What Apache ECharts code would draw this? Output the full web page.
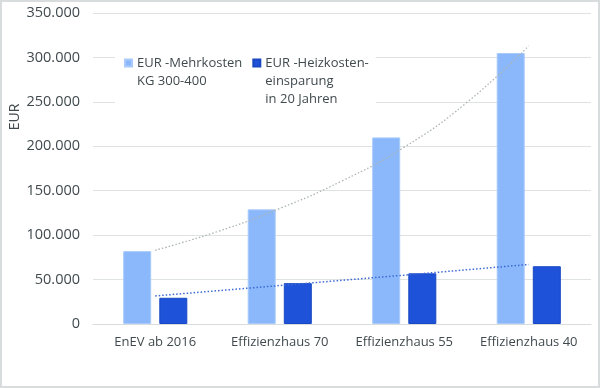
<!DOCTYPE html>
<html>
<head>
<meta charset="utf-8">
<script src="https://cdn.jsdelivr.net/npm/echarts@6/dist/echarts.min.js"></script>
<style>
html,body{margin:0;padding:0;background:#fff;}
#chart{width:600px;height:388px;}
</style>
</head>
<body>
<div id="chart"></div>
<script>
// ---- data ----
const categories = ['EnEV ab 2016', 'Effizienzhaus 70', 'Effizienzhaus 55', 'Effizienzhaus 40'];
const seriesNames = ['EUR -Mehrkosten\nKG 300-400', 'EUR -Heizkosten-\neinsparung\nin 20 Jahren'];
const mehrkosten = [82000, 129000, 210000, 305000];
const heizkosten = [29500, 46000, 57000, 65000];
// trendlines: [category position (1 = first), value]
const trendMehrkosten = [[1, 83000], [1.5, 104000], [2, 130000], [2.5, 161000], [3, 199000], [3.5, 249000], [4, 313000]];
const trendHeizkosten = [[1, 31600], [2, 43300], [3, 55000], [4, 67000]];
const yTicks = [0, 50000, 100000, 150000, 200000, 250000, 300000, 350000];
const yAxisName = 'EUR';

const txt = '#404a4e';
const font = 'Open Sans';
const fmt = v => String(v).replace(/\B(?=(\d{3})+(?!\d))/g, '.');

// legend text: pad lines so the icon sits next to the first line of each entry
const legendFormatter = name => {
  const lines = name.split('\n');
  while (lines.length < 3) lines.push('');
  return '\n\n' + lines.join('\n');
};

const chart = echarts.init(document.getElementById('chart'), null, {renderer: 'canvas'});
chart.setOption({
  animation: false,
  textStyle: {fontFamily: font},
  grid: {left: 93, right: 9, top: 13, bottom: 64},
  graphic: [
    {type: 'rect', shape: {x: 1, y: 1, width: 598, height: 386}, style: {fill: 'none', stroke: '#d8dcdc', lineWidth: 2}, silent: true, z: 100},
    {type: 'text', x: 15, y: 117, rotation: Math.PI / 2,
     style: {text: yAxisName, fontFamily: font, fontSize: 14, fill: txt, align: 'center', verticalAlign: 'middle'}}
  ],
  legend: {
    left: 115, top: 18,
    padding: [0, 7, 0, 9],
    backgroundColor: '#ffffff',
    itemWidth: 7, itemHeight: 7, itemGap: 10,
    icon: 'rect',
    formatter: legendFormatter,
    textStyle: {fontFamily: font, fontSize: 13, color: txt, lineHeight: 18},
    data: seriesNames
  },
  xAxis: [{
    type: 'category', data: categories,
    axisLine: {lineStyle: {color: '#d9dcdc'}},
    axisTick: {show: false},
    axisLabel: {color: txt, fontSize: 13, margin: 12, fontFamily: font, interval: 0}
  }, {
    type: 'value', min: 0.5, max: 4.5, show: false
  }],
  yAxis: {
    type: 'value', min: 0, max: 350000, interval: 50000,
    axisLine: {show: false}, axisTick: {show: false},
    splitLine: {lineStyle: {color: '#dfe2e2', width: 1}},
    axisLabel: {color: txt, fontSize: 14.5, margin: 13, fontFamily: font,
      formatter: v => yTicks.includes(v) ? fmt(v) : ''}
  },
  series: [
    {name: seriesNames[0], type: 'bar', data: mehrkosten, barWidth: 28, barGap: '29%',
     itemStyle: {color: '#8ab8fa', borderColor: '#a9cafb', borderWidth: 1}},
    {name: seriesNames[1], type: 'bar', data: heizkosten, barWidth: 28,
     itemStyle: {color: '#1e52d9', borderColor: '#1a48c4', borderWidth: 1}},
    {name: 'trend1', type: 'line', xAxisIndex: 1, data: trendMehrkosten, smooth: true, symbol: 'none',
     lineStyle: {color: '#adb4b4', width: 1.3, type: [1.5, 2]}, z: 5},
    {name: 'trend2', type: 'line', xAxisIndex: 1, data: trendHeizkosten, symbol: 'none',
     lineStyle: {color: '#3d6ad6', width: 1.5, type: [1.5, 2]}, z: 5}
  ]
});
</script>
</body>
</html>
